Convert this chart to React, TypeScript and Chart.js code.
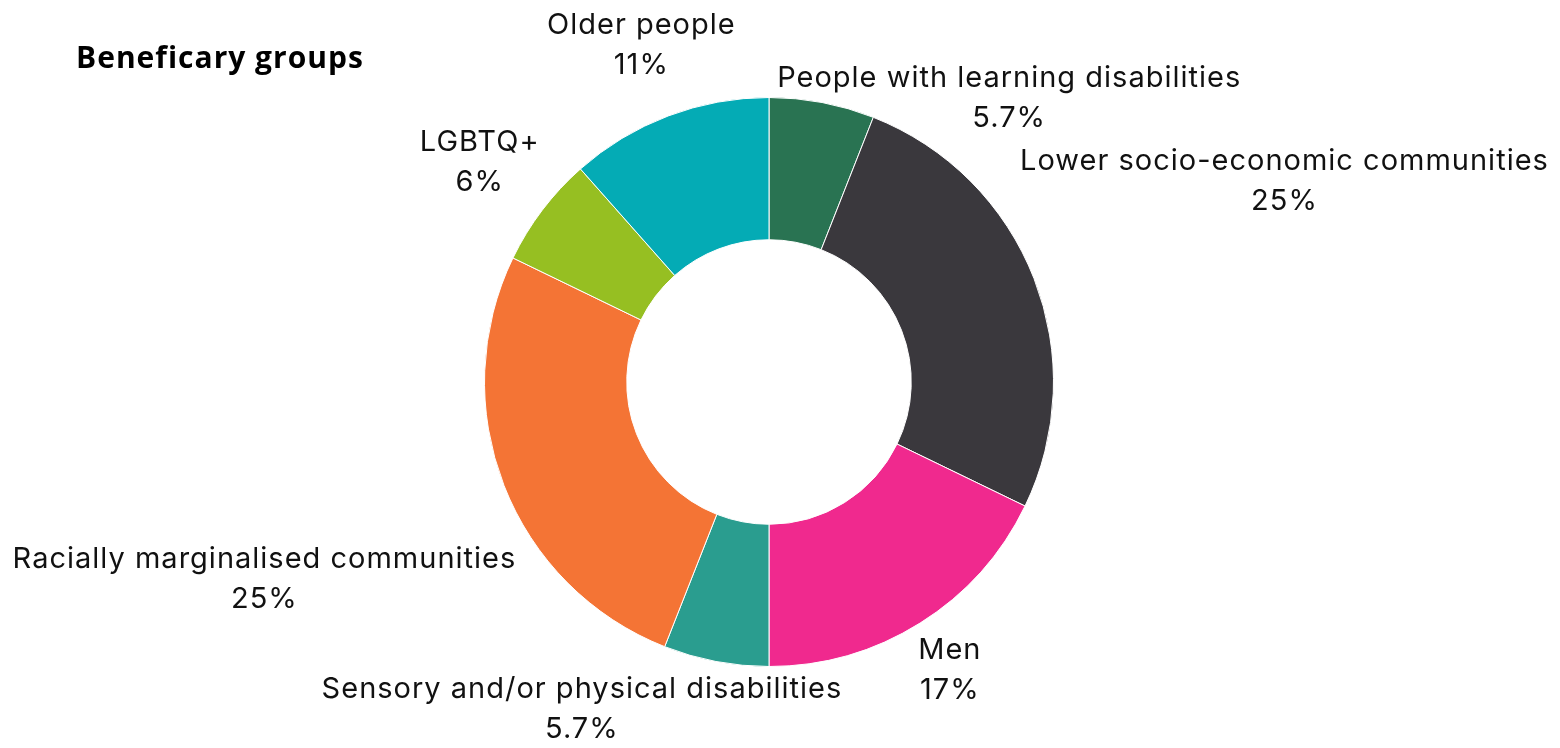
import React, { useEffect, useRef } from "react";
import { Chart, registerables } from "chart.js";

Chart.register(...registerables);

const TITLE = "Beneficary groups";
const categories = [
  "People with learning disabilities",
  "Lower socio-economic communities",
  "Men",
  "Sensory and/or physical disabilities",
  "Racially marginalised communities",
  "LGBTQ+",
  "Older people",
];
const values = [5.7, 25, 17, 5.7, 25, 6, 11];
const valueLabels = ["5.7%", "25%", "17%", "5.7%", "25%", "6%", "11%"];
const colors = ["#297352", "#3a383d", "#f0298e", "#2a9d8f", "#f47435", "#96bf22", "#04abb5"];

const FONT_SIZE = 29;
const LABEL_FONT = `${FONT_SIZE}px Inter, "Noto Sans", sans-serif`;
const LETTER_SPACING = "1px";
const LINE_H = 40;
const GAP = 10;
const MARGIN = 4;
const PAD_X = 40;
const PAD_Y = 6;

type Box = { l: number; r: number; t: number; b: number };

const overlap = (a: Box, b: Box) =>
  !(a.r + PAD_X < b.l || b.r + PAD_X < a.l || a.b + PAD_Y < b.t || b.b + PAD_Y < a.t);

const outLabels = {
  id: "outLabels",
  afterDraw(chart: any) {
    const ctx = chart.ctx as any;
    const W = chart.width;
    const H = chart.height;
    ctx.save();

    // title
    ctx.font = `bold 30px "Open Sans", sans-serif`;
    ctx.letterSpacing = "1px";
    ctx.fillStyle = "#000";
    ctx.textAlign = "left";
    ctx.textBaseline = "alphabetic";
    ctx.fillText(TITLE, 76, 68);
    const tw = ctx.measureText(TITLE).width;
    const titleBox: Box = { l: 76, r: 76 + tw, t: 45, b: 76 };

    ctx.font = LABEL_FONT;
    ctx.letterSpacing = LETTER_SPACING;
    const meta = chart.getDatasetMeta(0);
    const items = meta.data.map((arc: any, i: number) => {
      const p = arc.getProps(["x", "y", "startAngle", "endAngle", "outerRadius"], true);
      const mid = (p.startAngle + p.endAngle) / 2;
      const lines = [categories[i], valueLabels[i]];
      const w = Math.max(...lines.map((l) => ctx.measureText(l).width));
      const hw = w / 2;
      const hh = ((lines.length - 1) * LINE_H) / 2 + FONT_SIZE * 0.5;
      const dist = p.outerRadius + GAP + hw * Math.abs(Math.cos(mid)) + hh * Math.abs(Math.sin(mid));
      return { i, cx0: p.x, cy0: p.y, mid, hw, hh, dist, lines, x: 0, y: 0, placed: false };
    });

    const boxAt = (it: any, ang: number): Box => {
      const x = it.cx0 + Math.cos(ang) * it.dist;
      const y = it.cy0 + Math.sin(ang) * it.dist;
      return { l: x - it.hw, r: x + it.hw, t: y - it.hh, b: y + it.hh };
    };
    const placedBoxes: Box[] = [titleBox];
    const fits = (b: Box) => {
      if (b.l < MARGIN || b.r > W - MARGIN || b.t < MARGIN || b.b > H - MARGIN) return false;
      return placedBoxes.every((p) => !overlap(b, p));
    };
    const place = (it: any, ang: number) => {
      const b = boxAt(it, ang);
      it.x = (b.l + b.r) / 2;
      it.y = (b.t + b.b) / 2;
      it.placed = true;
      placedBoxes.push(b);
    };

    // first pass: labels that fit at their slice's middle angle
    items.forEach((it: any) => {
      if (fits(boxAt(it, it.mid))) place(it, it.mid);
    });
    // second pass: rotate the rest around the ring until they fit
    items.forEach((it: any) => {
      if (it.placed) return;
      const step = Math.PI / 360;
      for (let k = 1; k < 360; k++) {
        const a1 = it.mid + k * step;
        if (fits(boxAt(it, a1))) { place(it, a1); return; }
        const a2 = it.mid - k * step;
        if (fits(boxAt(it, a2))) { place(it, a2); return; }
      }
      place(it, it.mid);
    });

    ctx.fillStyle = "#111";
    ctx.textAlign = "center";
    ctx.textBaseline = "middle";
    items.forEach((it: any) => {
      const top = it.y - ((it.lines.length - 1) * LINE_H) / 2;
      it.lines.forEach((l: string, j: number) => ctx.fillText(l, it.x, top + j * LINE_H));
    });
    ctx.restore();
  },
};

export default function App() {
  const ref = useRef<HTMLCanvasElement>(null);
  useEffect(() => {
    if (!ref.current) return;
    const chart = new Chart(ref.current, {
      type: "doughnut",
      data: {
        labels: categories,
        datasets: [
          {
            data: values,
            backgroundColor: colors,
            borderColor: "#ffffff",
            borderWidth: 1,
            hoverOffset: 0,
          },
        ],
      },
      options: {
        animation: false,
        responsive: true,
        maintainAspectRatio: false,
        cutout: "50%",
        layout: { padding: { top: 97, bottom: 81, left: 0, right: 22 } },
        plugins: { legend: { display: false }, tooltip: { enabled: false } },
      },
      plugins: [outLabels],
    });
    return () => chart.destroy();
  }, []);
  return (
    <div style={{ position: "absolute", left: 0, top: 0, width: 1560, height: 748, background: "#fff" }}>
      <canvas ref={ref} />
    </div>
  );
}
